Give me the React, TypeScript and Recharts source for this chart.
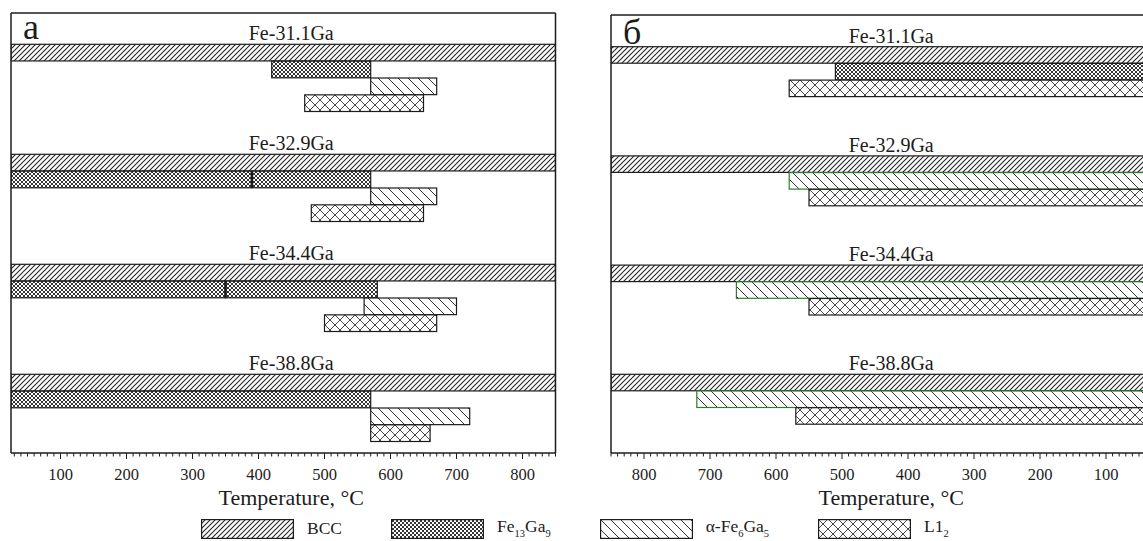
import React from 'react';
import { BarChart, Bar, XAxis, YAxis, LabelList } from 'recharts';

const SERIF = "'Liberation Serif', 'Times New Roman', serif";
const INK = '#1c1c1c';

const alloys = ['Fe-31.1Ga', 'Fe-32.9Ga', 'Fe-34.4Ga', 'Fe-38.8Ga'];
const phases = ['BCC', 'Fe13Ga9', 'α-Fe6Ga5', 'L12'];

// panel а: temperature ranges, °C (one list of segments per alloy)
const bccA = [[[25, 850]], [[25, 850]], [[25, 850]], [[25, 850]]];
const fe13ga9A = [[[420, 570]], [[25, 390], [390, 570]], [[25, 350], [350, 580]], [[25, 570]]];
const alphaA = [[[570, 670]], [[570, 670]], [[560, 700]], [[570, 720]]];
const l12A = [[[470, 650]], [[480, 650]], [[500, 670]], [[570, 660]]];

// panel б
const bccB = [[[25, 850]], [[25, 850]], [[25, 850]], [[25, 850]]];
const fe13ga9B = [[[25, 510]], [], [], []];
const alphaB = [[], [[25, 580]], [[25, 660]], [[25, 720]]];
const l12B = [[[25, 580]], [[25, 550]], [[25, 550]], [[25, 570]]];

const majorTicks = [100, 200, 300, 400, 500, 600, 700, 800];
const tempDomain: [number, number] = [25, 850];
const minorTicks = Array.from({ length: 83 }, (_, i) => 30 + i * 10);

const patternOf: Record<string, string> = {
  BCC: 'pat-bcc',
  Fe13Ga9: 'pat-fe',
  'α-Fe6Ga5': 'pat-alpha',
  L12: 'pat-l12',
};

type Geo = { top: number; first: number; pitch: number; row: number };

function buildRows(series: number[][][][], slots: number[], geo: Geo) {
  const rows: any[] = [];
  alloys.forEach((alloy, g) => {
    series.forEach((ranges, p) => {
      const y = geo.first + g * geo.pitch + (slots[p] + 0.5) * geo.row;
      ranges[g].forEach((seg, k) => {
        rows.push({
          y,
          range: seg,
          phase: phases[p],
          split: k > 0,
          label: p === 0 && k === 0 ? alloy : undefined,
        });
      });
    });
  });
  return rows;
}

const geoA: Geo = { top: 13, first: 31.3, pitch: 110, row: 16.85 };
const geoB: Geo = { top: 15, first: 31.7, pitch: 109.2, row: 16.7 };

const rowsA = buildRows([bccA, fe13ga9A, alphaA, l12A], [0, 1, 2, 3], geoA);
const rowsB = buildRows([bccB, fe13ga9B, alphaB, l12B], [0, 1, 1, 2], geoB);

const TempTick = (props: any) => {
  const { x, y, payload } = props;
  const major = majorTicks.includes(payload.value);
  return (
    <g>
      <line x1={x} x2={x} y1={y} y2={y + (major ? 6 : 3.5)} stroke={INK} strokeWidth={1} />
      {major && (
        <text x={x} y={y + 27} textAnchor="middle" fontSize={16.5} fontFamily={SERIF} fill={INK}>
          {payload.value}
        </text>
      )}
    </g>
  );
};

const Patterns = () => (
  <svg width={0} height={0} style={{ position: 'absolute' }}>
    <defs>
      <pattern id="pat-bcc" width={5} height={5} patternUnits="userSpaceOnUse">
        <rect width={5} height={5} fill="#fff" />
        <path d="M-1,1 l2,-2 M0,5 l5,-5 M4,6 l2,-2" stroke="#2a2a2a" strokeWidth={1.15} />
      </pattern>
      <pattern id="pat-fe" width={4} height={4} patternUnits="userSpaceOnUse">
        <rect width={4} height={4} fill="#fff" />
        <path d="M0,0 l4,4 M4,0 l-4,4" stroke="#2a2a2a" strokeWidth={0.95} />
      </pattern>
      <pattern id="pat-alpha" width={10} height={10} patternUnits="userSpaceOnUse">
        <rect width={10} height={10} fill="#fff" />
        <path d="M-1,-1 l12,12 M-1,9 l2,2 M9,-1 l2,2" stroke="#333" strokeWidth={1} />
      </pattern>
      <pattern id="pat-l12" width={10} height={10} patternUnits="userSpaceOnUse">
        <rect width={10} height={10} fill="#fff" />
        <path d="M0,0 l10,10 M10,0 l-10,10" stroke="#333" strokeWidth={0.9} />
      </pattern>
    </defs>
  </svg>
);

function Panel({ rows, geo, reversed, letter, letterDy, left, alphaStroke }: any) {
  const plotH = 453 - geo.top;

  const renderGroupLabel = (p: any) => {
    if (!p.value) return null;
    const x = Number(p.x) + Number(p.width) / 2 + 8;
    return (
      <text x={x} y={Number(p.y) - 4} textAnchor="middle" fontSize={20} fontFamily={SERIF} fill={INK}>
        {p.value}
      </text>
    );
  };

  // hatched range bar; a heavier edge marks where a split segment starts
  const renderBar = (p: any) => {
    const r = p.payload;
    const x = Math.min(p.x, p.x + p.width);
    const w = Math.abs(p.width);
    const edge = reversed ? x + w : x;
    return (
      <g>
        <rect
          x={x}
          y={p.y}
          width={w}
          height={p.height}
          fill={`url(#${patternOf[r.phase]})`}
          stroke={r.phase === 'α-Fe6Ga5' && alphaStroke ? alphaStroke : INK}
          strokeWidth={1.2}
        />
        {r.split && <line x1={edge} x2={edge} y1={p.y} y2={p.y + p.height} stroke={INK} strokeWidth={2.6} />}
      </g>
    );
  };

  return (
    <div style={{ position: 'absolute', left, top: 0 }}>
      <BarChart
        width={600}
        height={541}
        layout="vertical"
        data={rows}
        margin={{ top: geo.top - 1, right: 43.5, bottom: 87, left: 10 }}
      >
        <XAxis
          xAxisId="bottom"
          type="number"
          domain={tempDomain}
          allowDataOverflow
          reversed={reversed}
          ticks={minorTicks}
          interval={0}
          tick={(p: any) => <TempTick {...p} />}
          tickLine={false}
          tickSize={0}
          tickMargin={0}
          height={1}
          axisLine={{ stroke: INK, strokeWidth: 1.5 }}
          label={{
            content: (p: any) => {
              const vb = p.viewBox;
              return (
                <text x={vb.x + vb.width / 2 + 8} y={vb.y + 52} textAnchor="middle" fontSize={22} fontFamily={SERIF} fill={INK}>
                  Temperature, °C
                </text>
              );
            },
          }}
        />
        <XAxis
          xAxisId="top"
          orientation="top"
          type="number"
          domain={tempDomain}
          allowDataOverflow
          reversed={reversed}
          tick={false}
          tickLine={false}
          height={1}
          axisLine={{ stroke: INK, strokeWidth: 1.5 }}
          label={{
            content: (p: any) => {
              const vb = p.viewBox;
              return (
                <text x={vb.x + 12} y={vb.y + letterDy} fontSize={36} fontFamily={SERIF} fill={INK}>
                  {letter}
                </text>
              );
            },
          }}
        />
        <YAxis yAxisId="left" type="number" dataKey="y" domain={[0, plotH]} allowDataOverflow tick={false} tickLine={false} width={1} axisLine={{ stroke: INK, strokeWidth: 1.5 }} />
        <YAxis yAxisId="right" orientation="right" type="number" dataKey="y" domain={[0, plotH]} allowDataOverflow tick={false} tickLine={false} width={1} axisLine={{ stroke: INK, strokeWidth: 1.5 }} />
        <Bar
          xAxisId="bottom"
          yAxisId="left"
          dataKey="range"
          barSize={geo.row - 0.2}
          shape={renderBar}
          isAnimationActive={false}
        >
          <LabelList dataKey="label" content={renderGroupLabel} />
        </Bar>
      </BarChart>
    </div>
  );
}

const subStyle = { fontSize: '0.6em' };
const legendItems = [
  { phase: 'BCC', text: <>BCC</> },
  { phase: 'Fe13Ga9', text: <>Fe<sub style={subStyle}>13</sub>Ga<sub style={subStyle}>9</sub></> },
  { phase: 'α-Fe6Ga5', text: <>α-Fe<sub style={subStyle}>6</sub>Ga<sub style={subStyle}>5</sub></> },
  { phase: 'L12', text: <>L1<sub style={subStyle}>2</sub></> },
];

export default function App() {
  return (
    <div style={{ position: 'absolute', left: 0, top: 0, width: 1143, height: 541, overflow: 'hidden', background: '#fff' }}>
      <Patterns />
      <Panel rows={rowsA} geo={geoA} reversed={false} letter="а" letterDy={27} left={0} />
      <Panel rows={rowsB} geo={geoB} reversed letter="б" letterDy={30} left={600} alphaStroke="#2f7d2f" />
      <div
        style={{
          position: 'absolute',
          left: 201,
          top: 518,
          display: 'flex',
          alignItems: 'center',
          fontFamily: SERIF,
          fontSize: 17.5,
          lineHeight: 1,
          color: INK,
          whiteSpace: 'nowrap',
        }}
      >
        {legendItems.map((it) => (
          <div key={it.phase} style={{ display: 'flex', alignItems: 'center', marginRight: 49 }}>
            <svg width={93} height={20} style={{ marginRight: 13 }}>
              <rect x={0.6} y={0.6} width={91.8} height={18.8} fill={`url(#${patternOf[it.phase]})`} stroke={INK} strokeWidth={1.2} />
            </svg>
            <span>{it.text}</span>
          </div>
        ))}
      </div>
    </div>
  );
}
